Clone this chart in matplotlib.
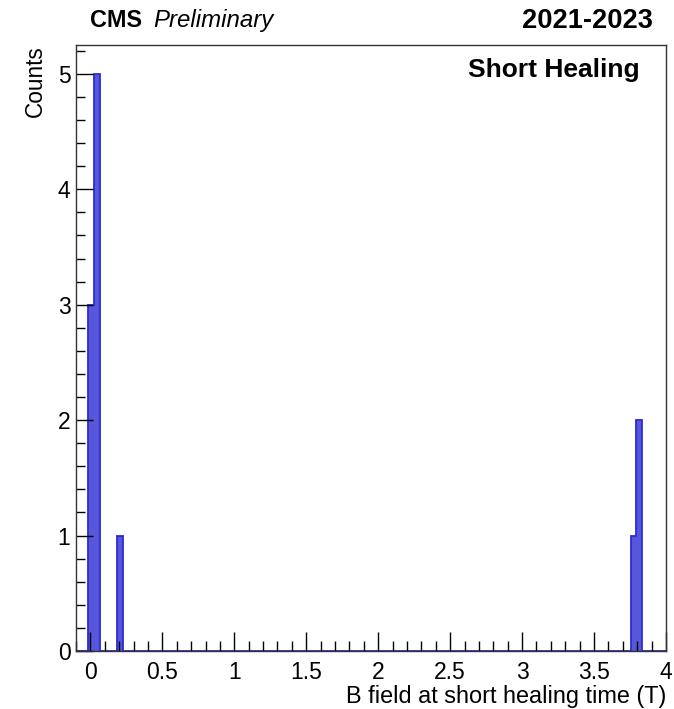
import numpy as np
import matplotlib
matplotlib.use("Agg")
import matplotlib.pyplot as plt
from matplotlib.ticker import MultipleLocator

# Histogram definition: 100 bins from -0.1 to 4.0 T
x_min, x_max, n_bins = -0.1, 4.0, 100
# Non-empty bins (bin index -> count)
filled_bins = [2, 3, 7, 94, 95]
filled_counts = [3, 5, 1, 1, 2]

edges = np.linspace(x_min, x_max, n_bins + 1)
counts = np.zeros(n_bins)
for b, c in zip(filled_bins, filled_counts):
    counts[b] = c

x_ticks = [0, 0.5, 1, 1.5, 2, 2.5, 3, 3.5, 4]
x_ticklabels = ["0", "0.5", "1", "1.5", "2", "2.5", "3", "3.5", "4"]
y_ticks = [0, 1, 2, 3, 4, 5]

plt.rcParams['font.family'] = ['Liberation Sans', 'DejaVu Sans']

fig = plt.figure(figsize=(6.74, 7.09), dpi=100)
ax = fig.add_axes([76/674, 58/709, 590/674, 606/709])

ax.stairs(counts, edges, fill=True, color='#5757dc', linewidth=0)
ax.stairs(counts, edges, fill=False, color='#2b2bd6', linewidth=1.3, baseline=0)

ax.set_xlim(x_min, x_max)
ax.set_ylim(0, 5.25)

ax.set_xticks(x_ticks)
ax.set_xticklabels(x_ticklabels)
ax.set_yticks(y_ticks)
ax.xaxis.set_minor_locator(MultipleLocator(0.1))
ax.yaxis.set_minor_locator(MultipleLocator(0.2))

ax.tick_params(axis='x', which='major', direction='in', length=13.5, width=1.0,
               labelsize=16.5, pad=7, top=False, bottom=True)
ax.tick_params(axis='x', which='minor', direction='in', length=7, width=1.0, top=False)
ax.tick_params(axis='y', which='major', direction='in', length=12, width=1.0,
               labelsize=16.5, pad=4, right=False, left=True)
ax.tick_params(axis='y', which='minor', direction='in', length=6.5, width=1.0, right=False)

for s in ax.spines.values():
    s.set_linewidth(1.0)
    s.set_color('#333333')

fig.text(666/674, 1 - 703/709, "B field at short healing time (T)", ha='right', va='baseline',
         fontsize=16.9)
fig.text(47/674, 1 - 45/709, "Counts", ha='right', va='top', rotation=90, fontsize=16.3)

fig.text(90/674, 1 - 27/709, "CMS", ha='left', va='baseline', fontsize=16.8, fontweight='bold')
fig.text(153/674, 1 - 27/709, "Preliminary", ha='left', va='baseline', fontsize=17.3, fontstyle='italic')
fig.text(653/674, 1 - 28/709, "2021-2023", ha='right', va='baseline', fontsize=19.6, fontweight='bold')
fig.text(640/674, 1 - 77/709, "Short Healing", ha='right', va='baseline', fontsize=19, fontweight='bold')

fig.savefig("out.png", dpi=100)
